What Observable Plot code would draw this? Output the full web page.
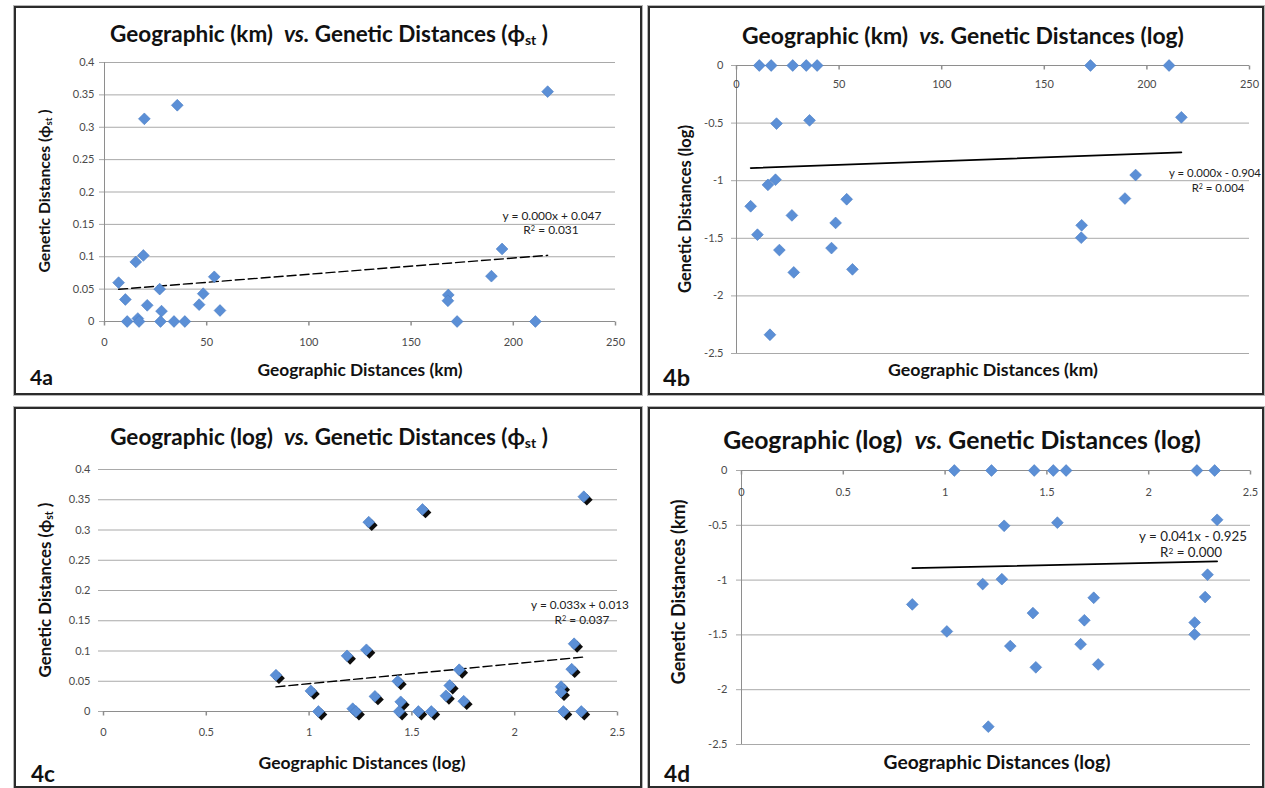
<!DOCTYPE html>
<html><head><meta charset="utf-8">
<script src="https://cdn.jsdelivr.net/npm/d3@7"></script>
<script src="https://cdn.jsdelivr.net/npm/@observablehq/plot@0.6"></script>
<style>
html,body{margin:0;padding:0;background:#fff;}
#root{position:relative;width:1265px;height:788px;overflow:hidden;background:#fff;font-family:Lato,"Open Sans",sans-serif;}
.panel{position:absolute;box-sizing:border-box;border:2px solid #2b2b2b;outline:1px solid #b5b5b5;overflow:hidden;background:#fff;}
.panel svg{position:absolute;left:0;top:0;}
.t{position:absolute;white-space:nowrap;line-height:1;color:#111;}
.t sub{font-size:0.62em;vertical-align:-0.22em;}
.t sup{font-size:0.62em;vertical-align:0.45em;}
</style></head><body><div id="root"></div>
<script>
// ---- data ----
// geographic distance (km) between population pairs
const distKm = [6.9, 10.2, 11.1, 15.3, 19.0, 16.3, 16.9, 20.9, 27.0, 27.9, 27.4, 34.0, 39.3,
                46.3, 48.3, 53.7, 56.5, 19.5, 35.6, 216.8, 194.5, 189.3, 168.2, 168.0, 172.5, 210.8];
// genetic distance (phi_st) for the same pairs
const phiSt  = [0.060, 0.034, 0, 0.092, 0.102, 0.0046, 0, 0.025, 0.050, 0.016, 0, 0, 0,
                0.026, 0.043, 0.069, 0.017, 0.313, 0.334, 0.355, 0.112, 0.070, 0.041, 0.032, 0, 0];
// trend lines (slope, intercept) for panels a, b, c, d
const trendSlope     = [0.00025, 0.00065, 0.033, 0.041];
const trendIntercept = [0.048, -0.895, 0.013, -0.925];
const trendEq = ["y = 0.000x + 0.047", "y = 0.000x - 0.904", "y = 0.033x + 0.013", "y = 0.041x - 0.925"];
const trendR2 = ["0.031", "0.004", "0.037", "0.000"];
// tick labels
const ticksKm  = [0, 50, 100, 150, 200, 250];
const ticksLog = [0, 0.5, 1, 1.5, 2, 2.5];
const ticksPhi = [0, 0.05, 0.1, 0.15, 0.2, 0.25, 0.3, 0.35, 0.4];
const ticksGenLog = [0, -0.5, -1, -1.5, -2, -2.5];
const panelTags = ["4a", "4b", "4c", "4d"];

// derived series (log transforms used in the figure; log of 0 plotted as 0)
const logKm = distKm.map(d => Math.log10(d));
const logPhi = phiSt.map(p => p > 0 ? Math.log10(p) : 0);

const root = document.getElementById("root");
const boxes = [
  {left: 14, top: 6, w: 628, h: 389},
  {left: 648, top: 6, w: 616, h: 389},
  {left: 14, top: 407, w: 628, h: 381},
  {left: 648, top: 407, w: 616, h: 381}
];
const panels = boxes.map(b => {
  const el = document.createElement("div");
  el.className = "panel";
  Object.assign(el.style, {left: b.left + "px", top: b.top + "px", width: b.w + "px", height: b.h + "px"});
  root.appendChild(el);
  return {el, ox: b.left + 2, oy: b.top + 2, w: b.w - 4, h: b.h - 4};
});

function addText(p, html, o) {
  const el = document.createElement("div");
  el.className = "t";
  el.innerHTML = html;
  el.style.fontSize = o.size + "px";
  el.style.fontWeight = o.bold ? "700" : "400";
  el.style.color = o.color || "#111";
  p.el.appendChild(el);
  let size = o.size;
  if (o.width) {
    const w = el.getBoundingClientRect().width;
    size = o.size * o.width / w;
    el.style.fontSize = size + "px";
  }
  el.style.left = (o.cx - p.ox) + "px";
  el.style.top = (o.cy - p.oy) + "px";
  el.style.transform = "translate(-50%,-50%)" + (o.rotate ? ` rotate(${o.rotate}deg)` : "");
  return size;
}

const diamond = {draw(ctx, size) { const r = Math.sqrt(size / 2);
  ctx.moveTo(0, -r); ctx.lineTo(r, 0); ctx.lineTo(0, r); ctx.lineTo(-r, 0); ctx.closePath(); }};
const tickMark = {draw(ctx) { ctx.moveTo(0, 0); ctx.lineTo(0, 4); }};
const fmt = d => String(+d.toFixed(2));

function makePlot(p, cfg) {
  const pts = cfg.xs.map((x, i) => ({x, y: cfg.ys[i]}));
  const [x0, x1] = d3.extent(cfg.xs);
  const trend = [x0, x1].map(x => ({x, y: cfg.slope * x + cfg.intercept}));
  const svg = Plot.plot({
    width: p.w, height: p.h,
    marginLeft: cfg.m[0], marginRight: cfg.m[1], marginTop: cfg.m[2], marginBottom: cfg.m[3],
    x: {domain: cfg.xDomain, axis: null},
    y: {domain: cfg.yDomain, axis: null},
    style: {background: "transparent", fontFamily: "Lato, sans-serif", overflow: "visible"},
    marks: [
      Plot.ruleY(cfg.yTicks, {y: d => d, stroke: "#a9a9a9", strokeWidth: 1, insetLeft: -5}),
      Plot.ruleY([0], {stroke: "#8e8e8e", strokeWidth: 1}),
      cfg.yAxisLine ? Plot.ruleX([0], {stroke: "#8e8e8e", strokeWidth: 1}) : null,
      Plot.dot(cfg.xTicks, {x: d => d, y: () => 0, symbol: tickMark, fill: "none", stroke: "#8e8e8e"}),
      Plot.text(cfg.xTicks, {x: d => d, y: () => 0, dy: cfg.xdy, text: fmt, fontSize: 11, fill: "#4a4a4a"}),
      Plot.text(cfg.yTicks, {y: d => d, frameAnchor: "left", dx: cfg.ydx, textAnchor: "end", text: fmt, fontSize: 11, fill: "#4a4a4a"}),
      Plot.line(trend, {x: "x", y: "y", stroke: "#000", strokeWidth: cfg.dash ? 1.4 : 1.7, strokeDasharray: cfg.dash}),
      cfg.shadow ? Plot.dot(pts, {x: "x", y: "y", symbol: diamond, r: 4.7, fill: "#0d0d0d", dx: 3, dy: 3}) : null,
      Plot.dot(pts, {x: "x", y: "y", symbol: diamond, r: 4.7, fill: "#5b8fd6", stroke: "#4a7cc2", strokeWidth: 0.6})
    ]
  });
  p.el.appendChild(svg);
}

const cfgs = [
  {xs: distKm, ys: phiSt, xDomain: [0, 250], yDomain: [0, 0.4], xTicks: ticksKm, yTicks: ticksPhi,
   m: [88, 25, 54, 72], xdy: 21, ydx: -10, yAxisLine: true, dash: "9,4", shadow: false},
  {xs: distKm, ys: logPhi, xDomain: [0, 250], yDomain: [-2.5, 0], xTicks: ticksKm, yTicks: ticksGenLog,
   m: [86, 13, 57, 40], xdy: 19, ydx: -13, yAxisLine: true, dash: null, shadow: false},
  {xs: logKm, ys: phiSt, xDomain: [0, 2.5], yDomain: [0, 0.4], xTicks: ticksLog, yTicks: ticksPhi,
   m: [87, 23, 60, 75], xdy: 21, ydx: -13, yAxisLine: false, dash: "9,4", shadow: true},
  {xs: logKm, ys: logPhi, xDomain: [0, 2.5], yDomain: [-2.5, 0], xTicks: ticksLog, yTicks: ticksGenLog,
   m: [91, 12, 61, 42], xdy: 22, ydx: -14, yAxisLine: true, dash: null, shadow: false}
];
cfgs.forEach((c, i) => makePlot(panels[i], {...c, slope: trendSlope[i], intercept: trendIntercept[i]}));

const phiHtml = "(&#981;<sub>st</sub> )";
const titles = [
  `Geographic (km)&nbsp; <i>vs.</i> Genetic Distances ${phiHtml}`,
  `Geographic (km)&nbsp; <i>vs.</i> Genetic Distances (log)`,
  `Geographic (log)&nbsp; <i>vs.</i> Genetic Distances ${phiHtml}`,
  `Geographic (log)&nbsp; <i>vs.</i> Genetic Distances (log)`
];
const xTitles = ["Geographic Distances (km)", "Geographic Distances (km)", "Geographic Distances (log)", "Geographic Distances (log)"];
const yTitles = [`Genetic Distances ${phiHtml}`, "Genetic Distances (log)", `Genetic Distances ${phiHtml}`, "Genetic Distances (km)"];

const layout = [
  {title: [329, 35, 438], xt: [360, 370, 205], yt: [45, 191, 163], tag: [41.5, 378, 23], eq: [552, 216, 99], r2: [551, 230]},
  {title: [963, 35, 442], xt: [993, 370, 210], yt: [685, 209, 168], tag: [676.5, 378, 27], eq: [1215, 173, 92], r2: [1218, 188]},
  {title: [329, 438, 438], xt: [362, 763, 207], yt: [46, 590, 175], tag: [43, 774, 24], eq: [580, 605, 98], r2: [582, 620]},
  {title: [962, 440, 478], xt: [997, 762, 227], yt: [678, 592, 185], tag: [677, 774, 26], eq: [1193, 537, 108], r2: [1191, 553]}
];
layout.forEach((L, i) => {
  const p = panels[i];
  addText(p, titles[i], {cx: L.title[0], cy: L.title[1], width: L.title[2], size: 20, bold: true});
  addText(p, xTitles[i], {cx: L.xt[0], cy: L.xt[1], width: L.xt[2], size: 15, bold: true});
  addText(p, yTitles[i], {cx: L.yt[0], cy: L.yt[1], width: L.yt[2], size: 15, bold: true, rotate: -90});
  addText(p, panelTags[i], {cx: L.tag[0], cy: L.tag[1], width: L.tag[2], size: 22, bold: true});
  const s = addText(p, trendEq[i], {cx: L.eq[0], cy: L.eq[1], width: L.eq[2], size: 10, color: "#222"});
  addText(p, `R<sup>2</sup> = ${trendR2[i]}`, {cx: L.r2[0], cy: L.r2[1], size: s, color: "#222"});
});
</script></body></html>
